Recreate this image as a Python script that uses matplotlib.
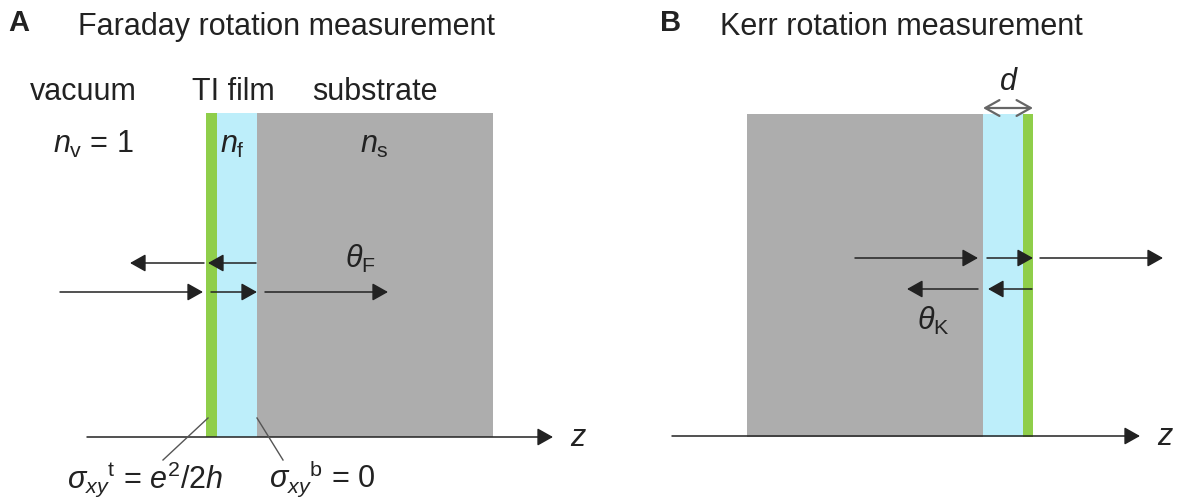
import matplotlib
matplotlib.use("Agg")
import matplotlib.pyplot as plt
from matplotlib.patches import Rectangle, FancyArrowPatch

plt.rcParams['font.family'] = ['Liberation Sans', 'DejaVu Sans']
plt.rcParams['mathtext.fontset'] = 'custom'
plt.rcParams['mathtext.rm'] = 'Liberation Sans'
plt.rcParams['mathtext.it'] = 'Liberation Sans:italic'
plt.rcParams['mathtext.bf'] = 'Liberation Sans:bold'

# ---- layer stacks (z boundaries in pixels) ----
layers_a = [206, 217, 257, 493]           # TI surface | TI film | substrate
colors_a = ['#8fce4a', '#bdeefa', '#adadad']
layers_b = [747, 983, 1023, 1033]         # substrate | TI film | TI surface
colors_b = ['#adadad', '#bdeefa', '#8fce4a']
slab_top = [113, 114]
slab_bottom = 437

# ---- light paths: (x_start, x_end, y) ----
rays_a = [(204, 130, 263), (256, 208, 263),
          (60, 203, 292), (211, 257, 292), (265, 388, 292)]
rays_b = [(855, 978, 258), (987, 1033, 258), (1040, 1163, 258),
          (978, 907, 289), (1032, 988, 289)]

# ---- z axes: (x_start, x_end, y) ----
z_axes = [(87, 553, 437), (672, 1140, 436)]

# ---- leader lines for surface conductivities ----
leaders = [((208, 418), (163, 460)), ((257, 418), (283, 460))]

W, H = 1186, 504
fig = plt.figure(figsize=(W / 100, H / 100), dpi=100)
ax = fig.add_axes([0, 0, 1, 1])
ax.set_xlim(0, W)
ax.set_ylim(H, 0)
ax.axis('off')

FS = 22
INK = '#222222'


def slab(bounds, cols, top):
    for x0, x1, c in zip(bounds[:-1], bounds[1:], cols):
        ax.add_patch(Rectangle((x0, top), x1 - x0, slab_bottom - top,
                               facecolor=c, edgecolor='none', zorder=1))


def ray(x0, x1, y, color=INK, lw=1.1):
    ax.add_patch(FancyArrowPatch((x0, y), (x1, y),
                                 arrowstyle='-|>,head_length=0.48,head_width=0.27',
                                 mutation_scale=20, lw=lw, color=color,
                                 shrinkA=0, shrinkB=0, zorder=3))


slab(layers_a, colors_a, slab_top[0])
slab(layers_b, colors_b, slab_top[1])

for r in rays_a + rays_b:
    ray(*r)
for x0, x1, y in z_axes:
    ray(x0, x1, y)

for (p0, p1) in leaders:
    ax.plot([p0[0], p1[0]], [p0[1], p1[1]], color='#555555', lw=1.0, zorder=3)

# thickness marker d
ax.add_patch(FancyArrowPatch((983, 108), (1033, 108),
                             arrowstyle='<->,head_length=0.34,head_width=0.19',
                             mutation_scale=30, lw=1.6, color='#666666',
                             shrinkA=0, shrinkB=0, zorder=3))
ax.text(1009, 90, r'$d$', fontsize=FS, ha='center', va='baseline', color=INK)

# panel headings
ax.text(8, 31, 'A', fontsize=21, fontweight='bold', ha='left', va='baseline', color=INK)
ax.text(78, 35, 'Faraday rotation measurement', fontsize=FS, ha='left', va='baseline', color=INK)
ax.text(660, 31, 'B', fontsize=21, fontweight='bold', ha='left', va='baseline', color=INK)
ax.text(720, 35, 'Kerr rotation measurement', fontsize=FS, ha='left', va='baseline', color=INK)

# region labels
ax.text(30, 100, 'vacuum', fontsize=FS, ha='left', va='baseline', color=INK)
ax.text(192, 100, 'TI film', fontsize=FS, ha='left', va='baseline', color=INK)
ax.text(312, 100, 'substrate', fontsize=FS, ha='left', va='baseline', color=INK)

ax.text(53, 153, r'$n_\mathrm{v}$ = 1', fontsize=FS, ha='left', va='baseline', color=INK)
ax.text(220, 153, r'$n_\mathrm{f}$', fontsize=FS, ha='left', va='baseline', color=INK)
ax.text(360, 153, r'$n_\mathrm{s}$', fontsize=FS, ha='left', va='baseline', color=INK)

ax.text(345, 268, r'$\theta_\mathrm{F}$', fontsize=FS, ha='left', va='baseline', color=INK)
ax.text(917, 330, r'$\theta_\mathrm{K}$', fontsize=FS, ha='left', va='baseline', color=INK)

ax.text(67, 488, r'$\sigma_{xy}{}^\mathrm{t}$ = $e^2$/2$h$', fontsize=FS,
        ha='left', va='baseline', color=INK)
ax.text(269, 488, r'$\sigma_{xy}{}^\mathrm{b}$ = 0', fontsize=FS,
        ha='left', va='baseline', color=INK)

ax.text(570, 446, r'$z$', fontsize=FS, ha='left', va='baseline', color=INK)
ax.text(1157, 445, r'$z$', fontsize=FS, ha='left', va='baseline', color=INK)

fig.savefig('out.png', dpi=100, facecolor='white')
